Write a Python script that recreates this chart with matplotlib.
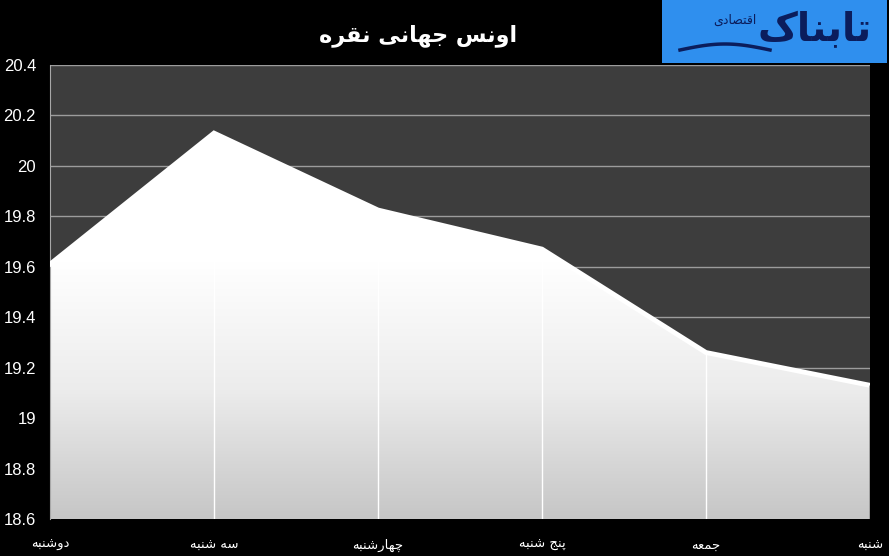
import numpy as np
import matplotlib
matplotlib.use('Agg')
import matplotlib.pyplot as plt
from matplotlib.patches import Polygon, Rectangle
from matplotlib.colors import LinearSegmentedColormap

# data
days = ['دوشنبه', 'سه شنبه', 'چهارشنبه', 'پنج شنبه', 'جمعه', 'شنبه']
silver = [19.61, 20.13, 19.825, 19.67, 19.26, 19.13]
y_ticks = [18.6, 18.8, 19.0, 19.2, 19.4, 19.6, 19.8, 20.0, 20.2, 20.4]
y_labels = ['18.6', '18.8', '19', '19.2', '19.4', '19.6', '19.8', '20', '20.2', '20.4']
title = 'اونس جهانی نقره'
logo_main = 'تابناک'
logo_sub = 'اقتصادی'

# matplotlib has no arabic shaping -> map letters to presentation forms by hand
# (isolated, final, initial, medial)
FORMS = {
    'ا': ('\uFE8D', '\uFE8E', None, None),
    'د': ('\uFEA9', '\uFEAA', None, None),
    'ر': ('\uFEAD', '\uFEAE', None, None),
    'و': ('\uFEED', '\uFEEE', None, None),
    'ب': ('\uFE8F', '\uFE90', '\uFE91', '\uFE92'),
    'پ': ('\uFB56', '\uFB57', '\uFB58', '\uFB59'),
    'ت': ('\uFE95', '\uFE96', '\uFE97', '\uFE98'),
    'ج': ('\uFE9D', '\uFE9E', '\uFE9F', '\uFEA0'),
    'چ': ('\uFB7A', '\uFB7B', '\uFB7C', '\uFB7D'),
    'س': ('\uFEB1', '\uFEB2', '\uFEB3', '\uFEB4'),
    'ش': ('\uFEB5', '\uFEB6', '\uFEB7', '\uFEB8'),
    'ص': ('\uFEB9', '\uFEBA', '\uFEBB', '\uFEBC'),
    'ع': ('\uFEC9', '\uFECA', '\uFECB', '\uFECC'),
    'ق': ('\uFED5', '\uFED6', '\uFED7', '\uFED8'),
    'ک': ('\uFB8E', '\uFB8F', '\uFB90', '\uFB91'),
    'م': ('\uFEE1', '\uFEE2', '\uFEE3', '\uFEE4'),
    'ن': ('\uFEE5', '\uFEE6', '\uFEE7', '\uFEE8'),
    'ه': ('\uFEE9', '\uFEEA', '\uFEEB', '\uFEEC'),
    'ی': ('\uFBFC', '\uFBFD', '\uFBFE', '\uFBFF'),
}


def shape(text):
    out = []
    for i, ch in enumerate(text):
        if ch not in FORMS:
            out.append(ch)
            continue
        iso, fin, ini, med = FORMS[ch]
        prev = text[i - 1] if i > 0 else ''
        nxt = text[i + 1] if i + 1 < len(text) else ''
        jp = prev in FORMS and FORMS[prev][2] is not None
        jn = nxt in FORMS and ini is not None
        if jp and jn:
            out.append(med)
        elif jp:
            out.append(fin)
        elif jn:
            out.append(ini)
        else:
            out.append(iso)
    return ''.join(out)[::-1]


plt.rcParams['font.family'] = ['DejaVu Sans']

fig = plt.figure(figsize=(8.89, 5.56), dpi=100, facecolor='black')
ax = fig.add_axes([50 / 889, 1 - 519 / 556, 820 / 889, 454 / 556])
ax.set_facecolor('#3d3d3d')

x = np.arange(len(days))
ax.set_xlim(0, len(days) - 1)
ax.set_ylim(18.6, 20.4)

# gradient area
verts = [(0, 18.6)] + list(zip(x, silver)) + [(x[-1], 18.6)]
poly = Polygon(verts, closed=True, facecolor='none', edgecolor='none')
ax.add_patch(poly)
cmap = LinearSegmentedColormap.from_list('g', ['#c6c6c6', '#ececec', '#ffffff', '#ffffff'])
grad = np.linspace(0, 1, 256).reshape(-1, 1)
im = ax.imshow(grad, cmap=cmap, origin='lower', aspect='auto',
               extent=[0, x[-1], 18.6, max(silver)], zorder=2)
im.set_clip_path(poly)
ax.plot(x, silver, color='white', lw=3.5, zorder=3, solid_joinstyle='miter')
ax.vlines(x[1:-1], 18.6, silver[1:-1], color='white', lw=1, zorder=3)
ax.vlines(x[-1], 18.6, silver[-1], color='#9a9a9a', lw=2, zorder=3)

for t in y_ticks[1:]:
    ax.axhline(t, color='#9c9c9c', lw=1, zorder=1)

ax.set_yticks(y_ticks)
ax.set_yticklabels(y_labels, family=['Liberation Sans Narrow', 'Liberation Sans'])
ax.set_xticks(x)
ax.set_xticklabels([shape(d) for d in days])
ax.tick_params(axis='y', length=0, pad=10, colors='white', labelsize=12)
ax.tick_params(axis='x', length=0, pad=14, colors='white', labelsize=9.5)
for s in ['top', 'right', 'bottom']:
    ax.spines[s].set_visible(False)
ax.spines['left'].set_color('#a8a8a8')

fig.text(418 / 889, 1 - 36 / 556, shape(title), color='white', fontsize=16,
         fontweight='bold', ha='center', va='center')

# logo
fig.patches.append(Rectangle((662 / 889, 1 - 63 / 556), 225 / 889, 63 / 556,
                             transform=fig.transFigure, facecolor='#2f8fee',
                             edgecolor='none'))
fig.text(815 / 889, 1 - 30 / 556, shape(logo_main), color='#0b1d5c', fontsize=28,
         fontweight='bold', ha='center', va='center')
fig.text(735 / 889, 1 - 20 / 556, shape(logo_sub), color='#0b1d5c', fontsize=9,
         ha='center', va='center')
sx = np.linspace(680, 770, 30)
sy = 50 - 6 * np.sin((sx - 680) / 90 * np.pi)
fig.lines.append(plt.Line2D(sx / 889, 1 - sy / 556, transform=fig.transFigure,
                            color='#0b1d5c', lw=2.5))

fig.savefig('out.png', dpi=100, facecolor='black')
